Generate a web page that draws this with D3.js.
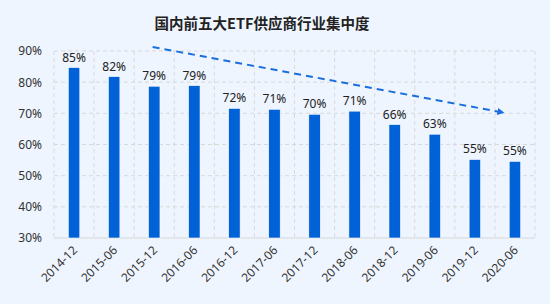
<!DOCTYPE html>
<html><head><meta charset="utf-8">
<script src="https://cdn.jsdelivr.net/npm/d3@7"></script>
<style>
html,body{margin:0;padding:0;background:#eef5fe;}
svg{display:block;font-family:"Noto Sans CJK SC","Noto Sans",sans-serif;}
</style></head>
<body><svg id="c" width="550" height="304"></svg>
<script>
const title = "国内前五大ETF供应商行业集中度";
const categories = ["2014-12","2015-06","2015-12","2016-06","2016-12","2017-06","2017-12","2018-06","2018-12","2019-06","2019-12","2020-06"];
const values = [84.7,81.8,78.7,78.9,71.6,71.3,69.7,70.7,66.4,63.3,55.2,54.6];
const labels = ["85%","82%","79%","79%","72%","71%","70%","71%","66%","63%","55%","55%"];
const yTicks = [30,40,50,60,70,80,90];
// trend arrow: [category index position, value]
const trendStart = [1.96, 91.3];
const trendEnd = [10.72, 70.2];

const svg = d3.select("#c");
const W = 550, H = 304;
const m = {l:54, r:15, t:51, b:66};
const x = d3.scaleBand().domain(categories).range([m.l, W - m.r]).paddingInner(0).paddingOuter(0);
const xi = d3.scaleLinear().domain([-0.5, categories.length - 0.5]).range([m.l, W - m.r]);
const y = d3.scaleLinear().domain([30, 90]).range([H - m.b, m.t]);

svg.append("rect").attr("width", W).attr("height", H).attr("fill", "#eef5fe");

svg.append("text").attr("x", 262).attr("y", 29).attr("text-anchor", "middle")
  .attr("font-size", 14.5).attr("font-weight", "bold").attr("fill", "#222").text(title);

// grid
const g = svg.append("g");
g.selectAll("line.h").data(yTicks.slice(1)).join("line")
  .attr("x1", m.l).attr("x2", W - m.r).attr("y1", d => y(d)).attr("y2", d => y(d))
  .attr("stroke", "#d9d9d9").attr("stroke-dasharray", "4,3");
const vlines = categories.map(c => x(c)).concat([W - m.r]);
g.selectAll("line.v").data(vlines).join("line")
  .attr("x1", d => d).attr("x2", d => d).attr("y1", m.t).attr("y2", y(30))
  .attr("stroke", "#d9d9d9").attr("stroke-dasharray", "4,3");
g.append("line").attr("x1", m.l).attr("x2", W - m.r).attr("y1", y(30)).attr("y2", y(30))
  .attr("stroke", "#d6d6d6");

// y axis
const ya = svg.append("g").attr("transform", `translate(${m.l},0)`)
  .call(d3.axisLeft(y).tickValues(yTicks).tickFormat(d => d + "%").tickSize(0).tickPadding(12));
ya.select(".domain").remove();
ya.selectAll("text").attr("font-size", 12).attr("fill", "#333").attr("font-family", "'Noto Sans','DejaVu Sans',sans-serif");

// x axis
const xa = svg.append("g").attr("transform", `translate(0,${y(30)})`)
  .call(d3.axisBottom(x).tickSize(0).tickPadding(0));
xa.select(".domain").remove();
xa.selectAll("text").attr("font-size", 12).attr("fill", "#333")
  .attr("font-family", "'Noto Sans','DejaVu Sans',sans-serif")
  .attr("text-anchor", "end").attr("dy", 0)
  .attr("transform", "translate(4,13) rotate(-45)");

// bars
const bw = 11.5;
svg.selectAll("rect.bar").data(values).join("rect")
  .attr("x", (d,i) => x(categories[i]) + x.bandwidth()/2 - bw/2)
  .attr("width", bw)
  .attr("y", d => y(d)).attr("height", d => y(30) - y(d))
  .attr("fill", "#0062d6").attr("stroke", "#ffffff").attr("stroke-width", 0.6);

svg.selectAll("text.lab").data(values).join("text")
  .attr("x", (d,i) => x(categories[i]) + x.bandwidth()/2)
  .attr("y", d => y(d) - 6)
  .attr("text-anchor", "middle").attr("font-size", 12).attr("fill", "#222")
  .attr("font-family", "'Noto Sans','DejaVu Sans',sans-serif")
  .text((d,i) => labels[i]);

// trend arrow
const defs = svg.append("defs");
defs.append("marker").attr("id", "ah").attr("viewBox", "0 0 10 10").attr("refX", 9).attr("refY", 5)
  .attr("markerWidth", 7).attr("markerHeight", 7).attr("markerUnits", "userSpaceOnUse").attr("orient", "auto")
  .append("path").attr("d", "M0,0 L10,5 L0,10 z").attr("fill", "#1a6fe0");
svg.append("line")
  .attr("x1", xi(trendStart[0])).attr("y1", y(trendStart[1]))
  .attr("x2", xi(trendEnd[0])).attr("y2", y(trendEnd[1]))
  .attr("stroke", "#1a6fe0").attr("stroke-width", 2).attr("stroke-dasharray", "7,5")
  .attr("marker-end", "url(#ah)");
</script></body></html>
